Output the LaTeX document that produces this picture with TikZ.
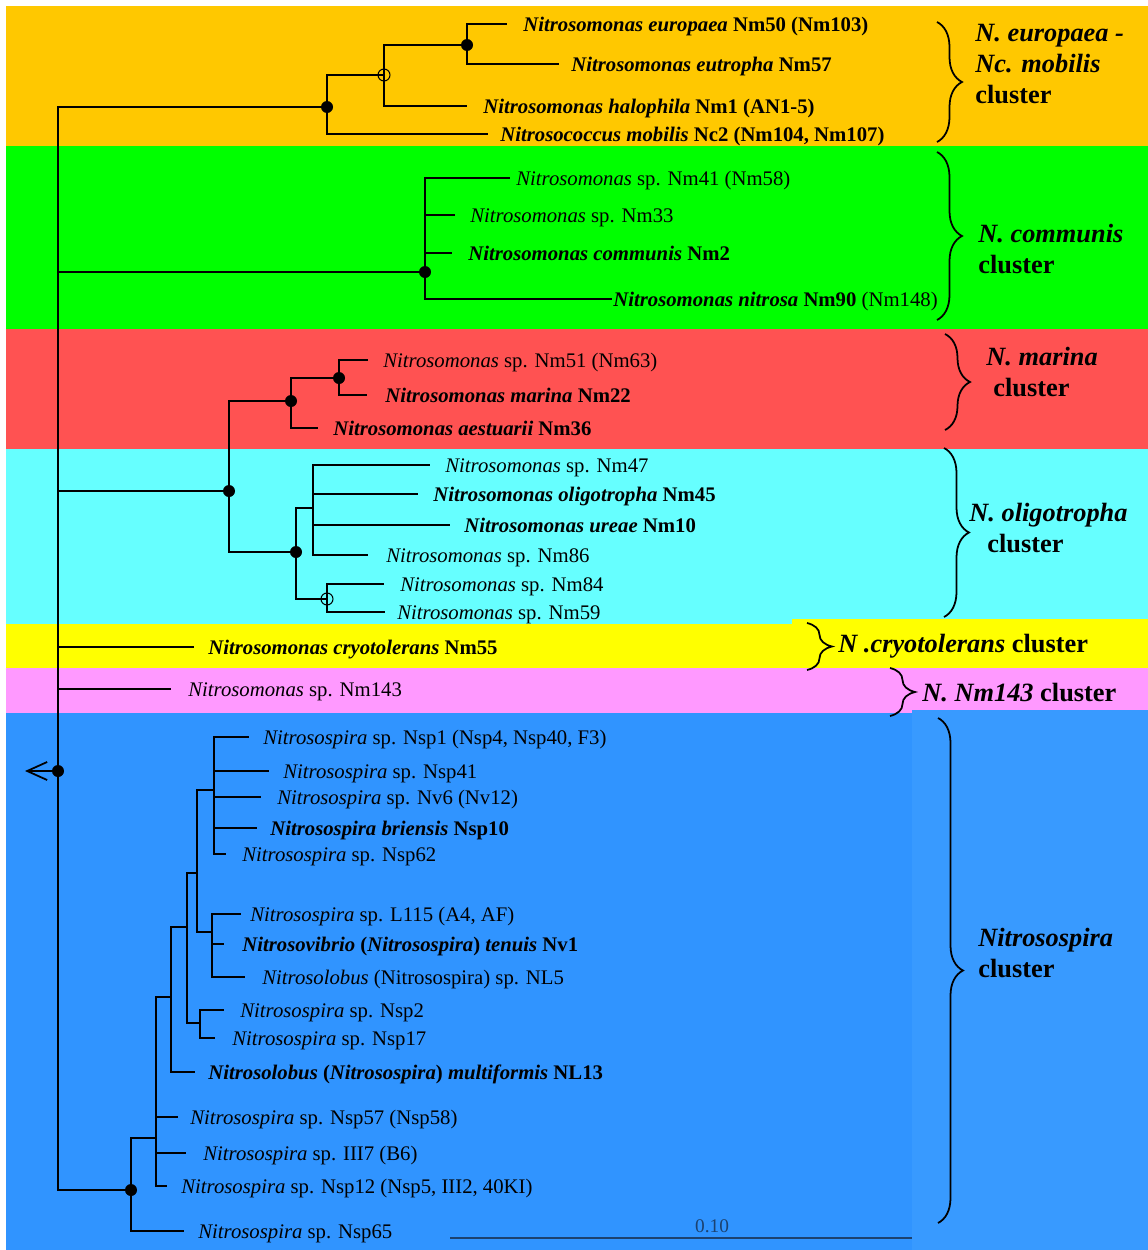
\documentclass[tikz,border=0pt]{standalone}
\usepackage{fontspec}
\setmainfont{Liberation Serif}
\usetikzlibrary{arrows.meta, decorations.pathreplacing}

\definecolor{bandOrange}{RGB}{255,200,0}
\definecolor{bandGreen}{RGB}{0,255,0}
\definecolor{bandRed}{RGB}{255,82,82}
\definecolor{bandCyan}{RGB}{102,255,255}
\definecolor{bandYellow}{RGB}{255,255,0}
\definecolor{bandPink}{RGB}{255,153,255}
\definecolor{bandBlue}{RGB}{48,148,255}
\definecolor{bandBlueR}{RGB}{56,154,255}
\definecolor{scaleCol}{RGB}{28,66,112}

\begin{document}
\begin{tikzpicture}[x=0.2mm, y=-0.2mm,
  leaf/.style={anchor=west, inner ysep=0pt, inner xsep=#1*0.2mm, text height=10pt, text depth=1.2pt,
               font=\fontsize{11.8}{13}\selectfont},
  dot/.style={circle, fill, inner sep=0pt, minimum size=2.4mm},
  odot/.style={circle, draw, line width=0.6pt, inner sep=0pt, minimum size=2.4mm},
  knot/.style={coordinate},
  br/.style={line width=1pt},
  brace/.style={decorate, decoration={brace, amplitude=5mm}, line width=1pt},
  clus/.style={anchor=west, align=left, inner sep=0pt, font=\bfseries\fontsize{15}{17.6}\selectfont}
]
\useasboundingbox (0,0) rectangle (1148,1250);
\fill[white] (0,0) rectangle (1148,1250);

% coloured bands
\fill[bandOrange] (6,6) rectangle (1148,146);
\fill[bandGreen] (6,146) rectangle (1148,329);
\fill[bandRed] (6,329) rectangle (1148,449);
\fill[bandCyan] (6,449) rectangle (1148,624);
\fill[bandYellow] (6,624) rectangle (1148,668);
\fill[bandYellow] (792,619) rectangle (1148,624);
\fill[bandPink] (6,668) rectangle (1148,713);
\fill[bandBlue] (6,713) rectangle (912,1250);
\fill[bandBlueR] (912,710) rectangle (1148,1250);

% inner nodes
\node[dot] (r) at (58,771) {};
\node[dot] (o1) at (327,107) {};
\node[odot] (o2) at (384,75) {};
\node[dot] (o3) at (467,45) {};
\node[dot] (g1) at (425,272) {};
\node[dot] (m1) at (229,491) {};
\node[dot] (m2) at (291,401) {};
\node[dot] (m3) at (339,378) {};
\node[dot] (c1) at (296,552) {};
\node[knot] (c2) at (313,508) {};
\node[odot] (c3) at (327,599) {};
\node[dot] (s1) at (131,1190) {};
\node[knot] (s2) at (156,1138) {};
\node[knot] (s3) at (171,997) {};
\node[knot] (s4) at (187,927) {};
\node[knot] (s5) at (197,873) {};
\node[knot] (s6) at (200,1023) {};
\node[knot] (s7) at (214,790) {};
\node[knot] (s8) at (212,932) {};

% leaves
\node[leaf=16] (eur) at (507,24) {\textbf{\textit{Nitrosomonas europaea} Nm50 (Nm103)}};
\node[leaf=12] (eut) at (559,64) {\textbf{\textit{Nitrosomonas eutropha} Nm57}};
\node[leaf=16] (hal) at (467,106) {\textbf{\textit{Nitrosomonas halophila} Nm1 (AN1-5)}};
\node[leaf=12] (mob) at (488,134) {\textbf{\textit{Nitrosococcus mobilis} Nc2 (Nm104, Nm107)}};
\node[leaf=6] (n41) at (510,178) {\textit{Nitrosomonas} sp. Nm41 (Nm58)};
\node[leaf=15] (n33) at (455,215) {\textit{Nitrosomonas} sp. Nm33};
\node[leaf=16] (nm2) at (452,253) {\textbf{\textit{Nitrosomonas communis} Nm2}};
\node[leaf=1] (n90) at (612,299) {\textbf{\textit{Nitrosomonas nitrosa} Nm90} (Nm148)};
\node[leaf=15] (n51) at (368,360) {\textit{Nitrosomonas} sp. Nm51 (Nm63)};
\node[leaf=18] (n22) at (367,395) {\textbf{\textit{Nitrosomonas marina} Nm22}};
\node[leaf=15] (n36) at (318,428) {\textbf{\textit{Nitrosomonas aestuarii} Nm36}};
\node[leaf=15] (n47) at (430,465) {\textit{Nitrosomonas} sp. Nm47};
\node[leaf=15] (n45) at (418,494) {\textbf{\textit{Nitrosomonas oligotropha} Nm45}};
\node[leaf=14] (n10) at (450,525) {\textbf{\textit{Nitrosomonas ureae} Nm10}};
\node[leaf=18] (n86) at (368,555) {\textit{Nitrosomonas} sp. Nm86};
\node[leaf=16] (n84) at (384,584) {\textit{Nitrosomonas} sp. Nm84};
\node[leaf=12] (n59) at (385,612) {\textit{Nitrosomonas} sp. Nm59};
\node[leaf=14] (cry) at (194,647) {\textbf{\textit{Nitrosomonas cryotolerans} Nm55}};
\node[leaf=17] (n143) at (171,689) {\textit{Nitrosomonas} sp. Nm143};
\node[leaf=14] (nsp1) at (249,737) {\textit{Nitrosospira} sp. Nsp1 (Nsp4, Nsp40, F3)};
\node[leaf=14] (nsp41) at (269,771) {\textit{Nitrosospira} sp. Nsp41};
\node[leaf=16] (nv6) at (261,797) {\textit{Nitrosospira} sp. Nv6 (Nv12)};
\node[leaf=13] (nsp10) at (257,828) {\textbf{\textit{Nitrosospira briensis} Nsp10}};
\node[leaf=16] (nsp62) at (226,854) {\textit{Nitrosospira} sp. Nsp62};
\node[leaf=9] (l115) at (241,914) {\textit{Nitrosospira} sp. L115 (A4, AF)};
\node[leaf=18] (nv1) at (224,944) {\textbf{\textit{Nitrosovibrio} (\textit{Nitrosospira}) \textit{tenuis} Nv1}};
\node[leaf=17] (nl5) at (245,977) {\textit{Nitrosolobus} (Nitrosospira) sp. NL5};
\node[leaf=16] (nsp2) at (224,1010) {\textit{Nitrosospira} sp. Nsp2};
\node[leaf=17] (nsp17) at (215,1038) {\textit{Nitrosospira} sp. Nsp17};
\node[leaf=13] (nl13) at (195,1072) {\textbf{\textit{Nitrosolobus} (\textit{Nitrosospira}) \textit{multiformis} NL13}};
\node[leaf=12] (nsp57) at (178,1117) {\textit{Nitrosospira} sp. Nsp57 (Nsp58)};
\node[leaf=17] (iii7) at (186,1153) {\textit{Nitrosospira} sp. III7 (B6)};
\node[leaf=14] (nsp12) at (167,1186) {\textit{Nitrosospira} sp. Nsp12 (Nsp5, III2, 40KI)};
\node[leaf=14] (nsp65) at (184,1231) {\textit{Nitrosospira} sp. Nsp65};

% branches
\foreach \a/\b in {r/o1, o1/o2, o2/o3, r/g1, r/m1, m1/m2, m2/m3, m1/c1, c1/c2, c1/c3,
                   r/s1, s1/s2, s2/s3, s3/s4, s4/s5, s5/s7, s5/s8, s4/s6}
  \draw[br] (\a.center) |- (\b.center);
\foreach \a/\b in {o3/eur, o3/eut, o2/hal, o1/mob, g1/n41, g1/n33, g1/nm2, g1/n90,
                   m3/n51, m3/n22, m2/n36, c2/n47, c2/n45, c2/n10, c2/n86, c3/n84, c3/n59,
                   r/cry, r/n143, s7/nsp1, s7/nsp41, s7/nv6, s7/nsp10, s7/nsp62,
                   s8/l115, s8/nv1, s8/nl5, s6/nsp2, s6/nsp17, s3/nl13,
                   s2/nsp57, s2/iii7, s2/nsp12, s1/nsp65}
  \draw[br] (\a.center) |- (\b.west);

% root arrow
\coordinate (rootOut) at (25,771);
\draw[br, -{Straight Barb[length=4mm, width=3.6mm]}] (r.center) -- (rootOut);

% scale bar
\coordinate (sbA) at (450,1238);
\coordinate (sbB) at (912,1238);
\draw[scaleCol, line width=1.2pt] (sbA) -- (sbB);
\node[font=\fontsize{11}{13}\selectfont, text=scaleCol, inner sep=0pt] (sbT) at (712,1226) {0.10};

% cluster braces
\draw[brace] (937,22) -- (937,142);
\draw[brace] (937,152) -- (937,320);
\draw[brace] (945,334) -- (945,430);
\draw[brace] (944,448) -- (944,617);
\draw[brace] (807,623) -- (807,670);
\draw[brace] (890,668) -- (890,716);
\draw[brace] (938,718) -- (938,1223);

% cluster names
\node[clus] (cEu) at (975,64) {\textit{N. europaea -}\\\textit{Nc. mobilis}\\cluster};
\node[clus] (cCo) at (978,249) {\textit{N. communis}\\cluster};
\node[clus] (cMa) at (986,372) {\textit{N. marina}\\\hspace{1.4mm}cluster};
\node[clus] (cOl) at (969,528) {\textit{N. oligotropha}\\\hspace{3.6mm}cluster};
\node[clus] (cCr) at (838,646) {\textit{N .cryotolerans} cluster};
\node[clus] (cNm) at (922,693) {\textit{N. Nm143} cluster};
\node[clus] (cNs) at (978,953) {\textit{Nitrosospira}\\cluster};
\end{tikzpicture}
\end{document}
